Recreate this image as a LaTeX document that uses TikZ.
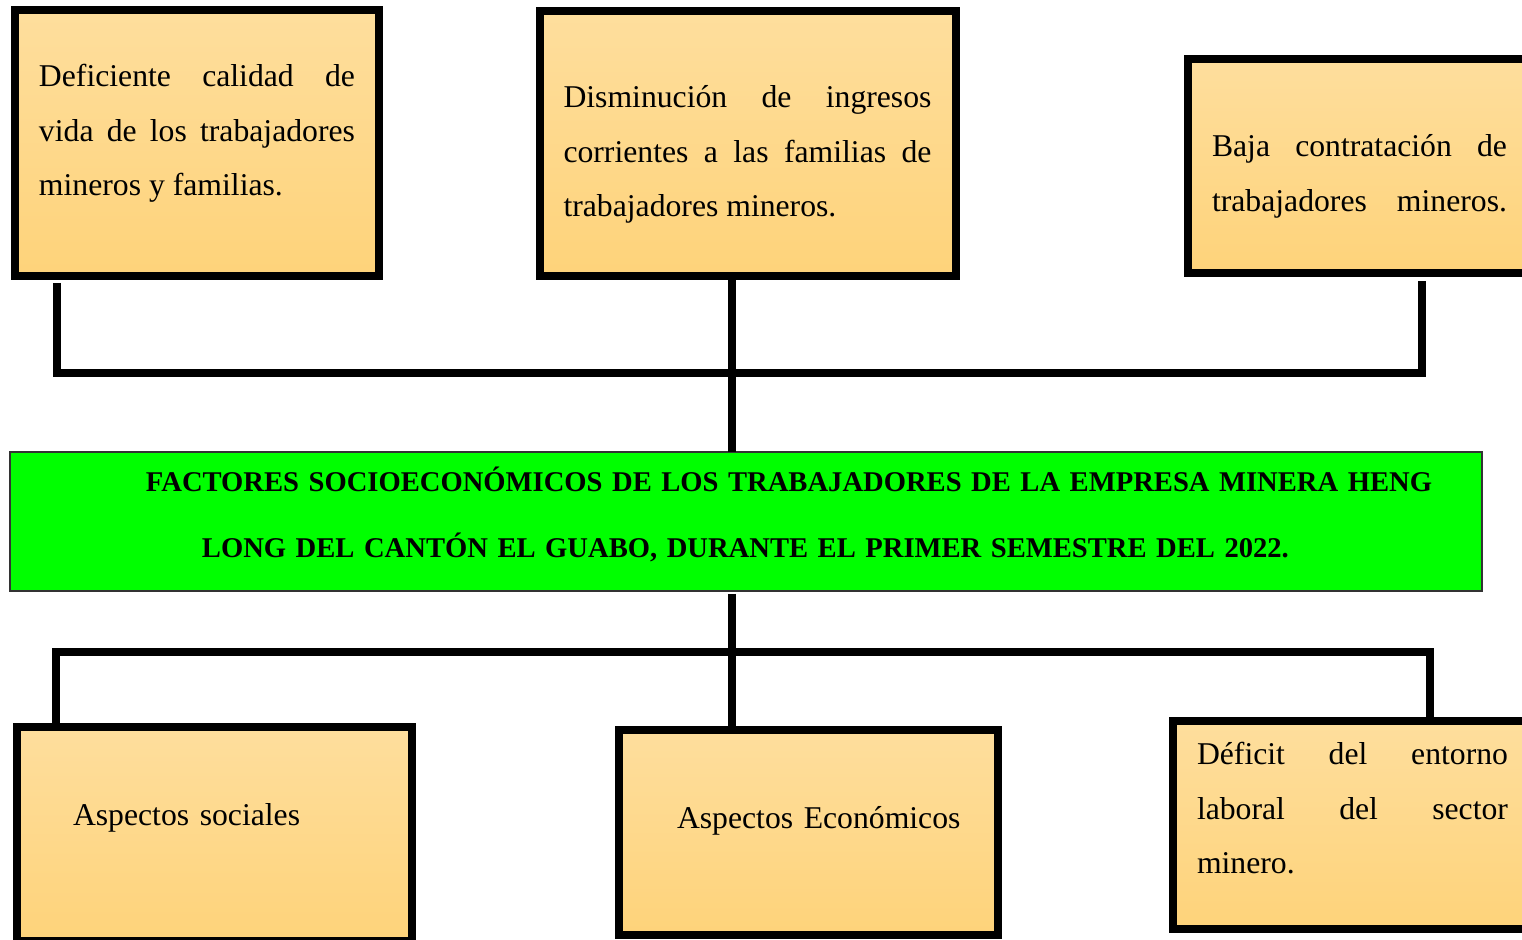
\documentclass[tikz,border=0pt]{standalone}
\usepackage{fontspec}
\setmainfont{Liberation Serif}
\usepackage{tikz}
\definecolor{durazno}{RGB}{254,222,157}
\definecolor{duraznoosc}{RGB}{254,211,122}
\definecolor{verdetitulo}{RGB}{0,255,0}

\begin{document}
\begin{tikzpicture}[x=0.5pt, y=-0.5pt,
	caja/.style={draw=black, line width=4pt, top color=durazno, bottom color=duraznoosc, anchor=north west, outer sep=0pt, inner xsep=12pt, inner ysep=0pt, align=justify, font=\fontsize{15.85pt}{27.25pt}\selectfont},
	titulo/.style={draw=black!80, line width=0.7pt, fill=verdetitulo, anchor=north west, outer sep=0pt, inner sep=0pt, align=left, text width=736pt, font=\fontsize{14.3pt}{33pt}\selectfont\bfseries},
	conector/.style={line width=4pt, line join=miter}]
	\useasboundingbox (0,0) rectangle (1522,940);
	\clip (0,0) rectangle (1522,940);
	\fill[white] (0,0) rectangle (1522,940);
	\node[caja, text width=158pt, text height=38.5pt, text depth=94.5pt] (efecto1) at (15,10) {Deficiente calidad de\linebreak vida de los trabajadores\linebreak mineros y familias.};
	\node[caja, text width=184pt, text height=48.5pt, text depth=84pt] (efecto2) at (539.5,11) {Disminución de ingresos\linebreak corrientes a las familias de\linebreak trabajadores mineros.};
	\node[caja, text width=147.5pt, text height=49pt, text depth=58pt] (efecto3) at (1188,59) {Baja contratación de\linebreak trabajadores\hfill mineros.};
	\node[titulo, text height=20pt, text depth=49.5pt] (problema) at (10,452) {\hspace*{68pt}FACTORES SOCIOECONÓMICOS DE LOS TRABAJADORES DE LA EMPRESA MINERA HENG\\\hspace*{96pt}LONG DEL CANTÓN EL GUABO, DURANTE EL PRIMER SEMESTRE DEL 2022.};
	\node[caja, align=left, text width=173.5pt, text height=49.5pt, text depth=57.5pt] (causa1) at (17,727) {\hspace*{16pt}Aspectos sociales};
	\node[caja, align=left, text width=165.5pt, text height=49pt, text depth=53.5pt] (causa2) at (619,730) {\hspace*{17pt}Aspectos Económicos};
	\node[caja, text width=155.5pt, text height=22pt, text depth=82pt] (causa3) at (1173,721) {Déficit del entorno\linebreak laboral del sector\linebreak minero.};
	\coordinate (ramaA) at (57,373);
	\coordinate (ramaB) at (1421.5,373);
	\coordinate (ramaC) at (732,373);
	\coordinate (ramaD) at (56,652);
	\coordinate (ramaE) at (1430,652);
	\coordinate (ramaF) at (732,652);
	\draw[conector, shorten <=3.5pt, shorten >=4pt] (ramaA |- efecto1.south) -- (ramaA) -- (ramaB) -- (ramaB |- efecto3.south);
	\draw[conector] (efecto2.south -| ramaC) -- (problema.north -| ramaC);
	\draw[conector] (causa1.north -| ramaD) -- (ramaD) -- (ramaE) -- (causa3.north -| ramaE);
	\draw[conector, shorten <=1.5pt] (problema.south -| ramaF) -- (causa2.north -| ramaF);
\end{tikzpicture}
\end{document}
